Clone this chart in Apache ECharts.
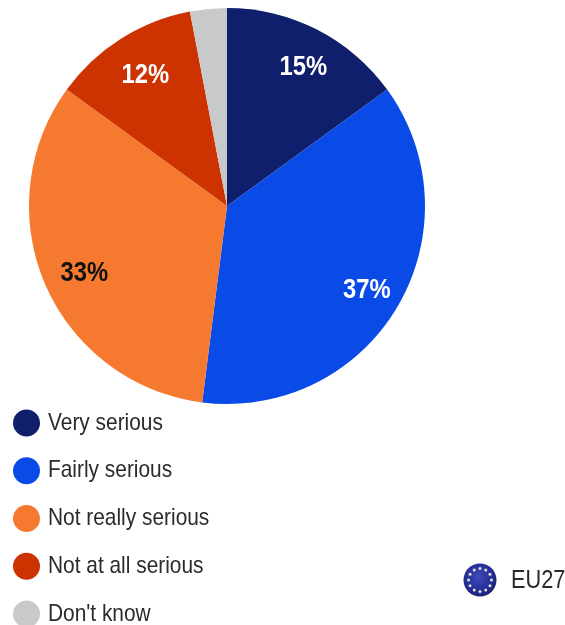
<!DOCTYPE html>
<html><head><meta charset="utf-8">
<style>html,body{margin:0;padding:0;background:#fff}#c{width:565px;height:625px}</style>
<script src="https://cdn.jsdelivr.net/npm/echarts@6/dist/echarts.min.js"></script>
</head><body><div id="c"></div>
<script>
var categories=["Very serious","Fairly serious","Not really serious","Not at all serious","Don't know"];
var values=[15,37,33,12,3];
var labelTexts=["15%","37%","33%","12%",""];
var colors=["#0f1f6b","#0a4be8","#f5792f","#cc3300","#c8c9cb"];
var labelColors=["#ffffff","#ffffff","#111111","#ffffff","#ffffff"];
var labelOffsets=[[30,-48],[52,32],[-49,27],[-27,-45],[0,0]];
var font="'Liberation Sans',Arial,sans-serif";
var chart=echarts.init(document.getElementById('c'),null,{renderer:'canvas'});
var stars=[];
for(var i=0;i<12;i++){var a=i*Math.PI/6;stars.push({type:'circle',shape:{cx:480+11.5*Math.cos(a),cy:580+11.5*Math.sin(a),r:1.5},style:{fill:'#dfe0d0'},silent:true});}
chart.setOption({
 animation:false,backgroundColor:'#fff',
 legend:{orient:'vertical',left:13,top:409.5,padding:0,height:240,itemWidth:27,itemHeight:27,itemGap:20.75,
  icon:'circle',selectedMode:false,data:categories,
  textStyle:{fontFamily:font,fontSize:24,color:'#2b2b2b',padding:[1,0,0,3]}},
 series:[{type:'pie',center:[227,206],radius:[0,198],startAngle:90,clockwise:true,
  avoidLabelOverlap:false,silent:true,
  data:categories.map(function(n,i){return {name:n,value:values[i],itemStyle:{color:colors[i]},
   label:{formatter:labelTexts[i],color:labelColors[i]}};}),
  label:{show:true,position:'inside',fontFamily:font,fontSize:28,fontWeight:'bold'},
  labelLine:{show:false},
  labelLayout:function(p){var o=labelOffsets[p.dataIndex];return {dx:o[0],dy:o[1]};}
 }],
 graphic:[{type:'group',silent:true,children:[
  {type:'circle',shape:{cx:480,cy:580,r:16.5},style:{fill:{type:'radial',x:0.45,y:0.4,r:0.62,colorStops:[{offset:0,color:'#3f49b8'},{offset:0.7,color:'#222d96'},{offset:1,color:'#1a2270'}]}}}
 ].concat(stars)},
 {type:'text',left:511,top:569,silent:true,style:{text:'EU27',fontFamily:font,fontSize:25,fill:'#2b2b2b'}}]
});
/* The reference uses a condensed face that is not installed: narrow the drawn text. */
var zr=chart.getZr();
zr.storage.getDisplayList(true).forEach(function(el){
 if(el.type==='tspan'){el.originX=el.style.x;el.originY=el.style.y;el.scaleX=/bold/.test(el.style.font||'')?0.85:0.87;el.markRedraw();}
});
zr.refreshImmediately();
</script></body></html>
